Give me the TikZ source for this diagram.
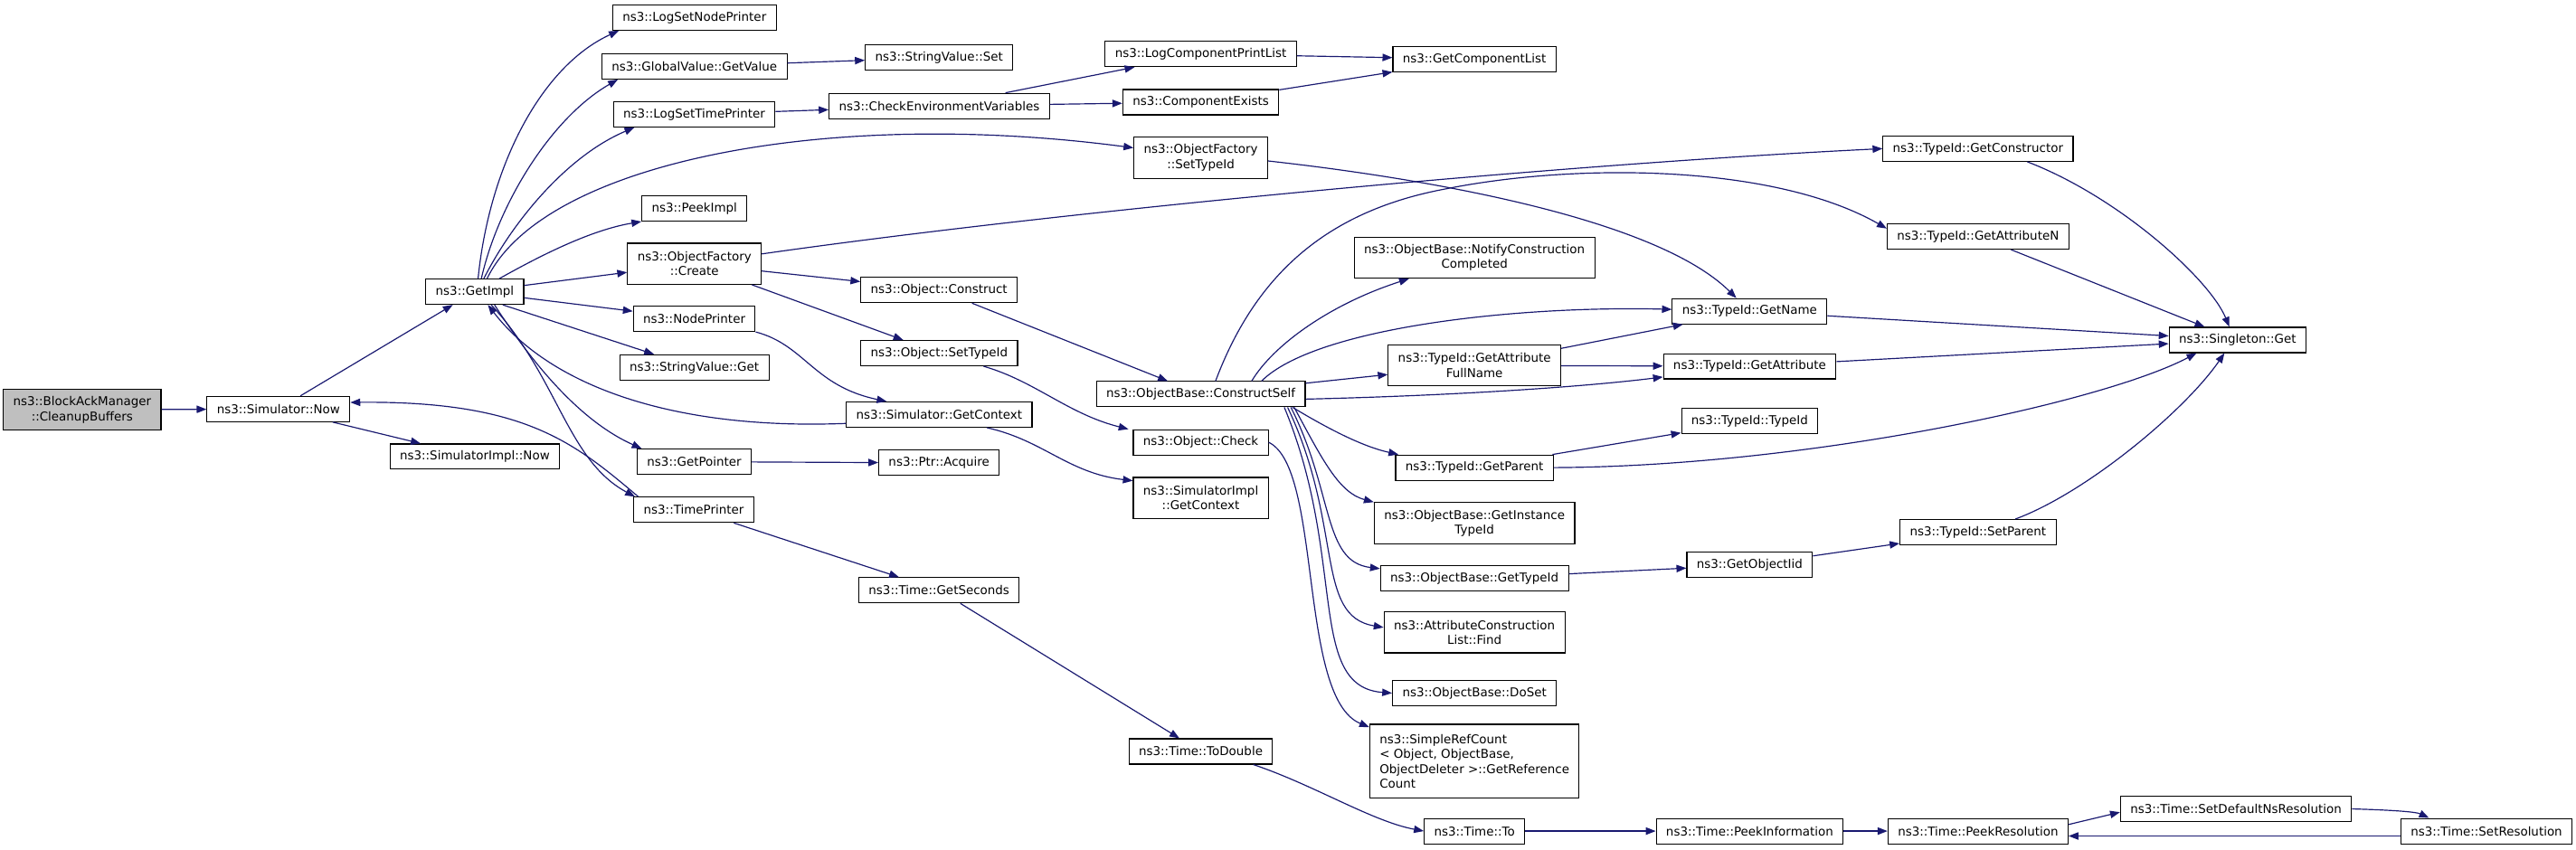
\documentclass[tikz,border=0pt]{standalone}
\usepackage{fontspec}
\setmainfont{DejaVu Sans}
\usetikzlibrary{arrows.meta}
\definecolor{edgeblue}{HTML}{191970}
\begin{document}
\begin{tikzpicture}[x=1pt,y=-1pt,
  fn/.style={draw=black, line width=0.6pt, fill=white, inner xsep=6pt, inner ysep=0pt,
    minimum height=15.4pt, font=\fontsize{7.4}{9}\selectfont, align=center},
  fn2/.style={fn, minimum height=25pt},
  call/.style={draw=edgeblue, line width=0.65pt, -{Triangle[length=6pt,width=4.5pt]}},
]
\useasboundingbox (0,0) rectangle (1568,517.5);

% nodes
\node[fn2, fill=gray!50] (bam) at (50,249.5) {ns3::BlockAckManager\\::CleanupBuffers};
\node[fn] (simnow) at (169.5,249) {ns3::Simulator::Now};
\node[fn] (simimplnow) at (289,278) {ns3::SimulatorImpl::Now};
\node[fn] (getimpl) at (289,177.6) {ns3::GetImpl};
\node[fn] (lsnp) at (422.7,10.7) {ns3::LogSetNodePrinter};
\node[fn] (gvgv) at (422.7,40.4) {ns3::GlobalValue::GetValue};
\node[fn] (lstp) at (422.6,69.6) {ns3::LogSetTimePrinter};
\node[fn] (peek) at (422.7,126.9) {ns3::PeekImpl};
\node[fn2] (ofcreate) at (422.7,160.6) {ns3::ObjectFactory\\::Create};
\node[fn] (nodepr) at (422.6,194.1) {ns3::NodePrinter};
\node[fn] (svget) at (422.6,223.7) {ns3::StringValue::Get};
\node[fn] (getptr) at (422.6,281.1) {ns3::GetPointer};
\node[fn] (timepr) at (422.3,310.4) {ns3::TimePrinter};
\node[fn] (svset) at (571.6,35.1) {ns3::StringValue::Set};
\node[fn] (checkenv) at (571.7,64.5) {ns3::CheckEnvironmentVariables};
\node[fn] (objconstruct) at (571.6,176.6) {ns3::Object::Construct};
\node[fn] (objsettid) at (571.7,215) {ns3::Object::SetTypeId};
\node[fn] (simgetctx) at (571.7,252.4) {ns3::Simulator::GetContext};
\node[fn] (ptracq) at (571.6,281.8) {ns3::Ptr::Acquire};
\node[fn] (getsec) at (571.6,359.4) {ns3::Time::GetSeconds};
\node[fn] (todouble) at (730.9,457.5) {ns3::Time::ToDouble};
\node[fn] (lcpl) at (730.9,32.9) {ns3::LogComponentPrintList};
\node[fn] (compexists) at (730.9,62.2) {ns3::ComponentExists};
\node[fn2] (ofsettid) at (730.9,96) {ns3::ObjectFactory\\::SetTypeId};
\node[fn] (constructself) at (730.9,240) {ns3::ObjectBase::ConstructSelf};
\node[fn] (objcheck) at (730.9,269.3) {ns3::Object::Check};
\node[fn2] (simimplctx) at (730.9,303.2) {ns3::SimulatorImpl\\::GetContext};
\node[fn] (getcomplist) at (897.5,36) {ns3::GetComponentList};
\node[fn2] (notify) at (897.5,156.9) {ns3::ObjectBase::NotifyConstruction\\Completed};
\node[fn2] (getattrfull) at (897.5,222.5) {ns3::TypeId::GetAttribute\\FullName};
\node[fn] (getparent) at (897.5,284.7) {ns3::TypeId::GetParent};
\node[fn2] (getinst) at (897.5,318.5) {ns3::ObjectBase::GetInstance\\TypeId};
\node[fn] (obgettid) at (897.5,352.2) {ns3::ObjectBase::GetTypeId};
\node[fn2] (acfind) at (897.5,385) {ns3::AttributeConstruction\\List::Find};
\node[fn] (doset) at (897.5,422) {ns3::ObjectBase::DoSet};
\node[fn, minimum height=45pt, align=left] (refcount) at (897.5,463.5) {ns3::SimpleRefCount\\< Object, ObjectBase,\\ObjectDeleter >::GetReference\\Count};
\node[fn] (timeto) at (897.5,506) {ns3::Time::To};
\node[fn] (getname) at (1065,189.5) {ns3::TypeId::GetName};
\node[fn] (getattr) at (1065,223) {ns3::TypeId::GetAttribute};
\node[fn] (tidtid) at (1065,256.5) {ns3::TypeId::TypeId};
\node[fn] (getobjiid) at (1065,344) {ns3::GetObjectIid};
\node[fn] (peekinfo) at (1065,506) {ns3::Time::PeekInformation};
\node[fn] (getctor) at (1204,90.5) {ns3::TypeId::GetConstructor};
\node[fn] (getattrn) at (1204,144) {ns3::TypeId::GetAttributeN};
\node[fn] (setparent) at (1204,324) {ns3::TypeId::SetParent};
\node[fn] (peekres) at (1204,506) {ns3::Time::PeekResolution};
\node[fn] (singleton) at (1362,207) {ns3::Singleton::Get};
\node[fn] (setdefns) at (1361,492.5) {ns3::Time::SetDefaultNsResolution};
\node[fn] (setres) at (1513.5,506) {ns3::Time::SetResolution};

% edges
\draw[call] (bam) -- (simnow);
\draw[call] (simnow) -- (getimpl);
\draw[call] (simnow) -- (simimplnow);
\draw[call] ([xshift=2pt]getimpl.north) .. controls (298,100) and (330,40) .. ([xshift=4pt]lsnp.south west);
\draw[call] ([xshift=4pt]getimpl.north) .. controls (303,125) and (335,72) .. ([xshift=10pt]gvgv.south west);
\draw[call] ([xshift=5.5pt]getimpl.north) .. controls (312,135) and (345,95) .. ([xshift=13pt]lstp.south west);
\draw[call] ([xshift=7.5pt]getimpl.north) .. controls (330,100) and (500,65) .. ([yshift=6pt]ofsettid.west);
\draw[call] ([xshift=15pt]getimpl.north) .. controls (330,155) and (360,140) .. (peek.south west);
\draw[call] (getimpl) -- (ofcreate);
\draw[call] (getimpl) -- (nodepr);
\draw[call] ([xshift=17pt]getimpl.south) -- (svget);
\draw[call] ([xshift=12pt]getimpl.south) .. controls (320,215) and (350,255) .. ([xshift=3pt]getptr.north west);
\draw[call] ([xshift=10pt]getimpl.south) .. controls (340,230) and (345,280) .. ([xshift=1pt]timepr.north west);
\draw[call] ([yshift=-5.4pt]simgetctx.west) .. controls (410,262) and (335,235) .. ([xshift=8pt]getimpl.south);
\draw[call] ([xshift=3pt]timepr.north west) .. controls (350,270) and (320,244) .. ([yshift=4pt]simnow.east);
\draw[call] (nodepr.south east) .. controls (490,210) and (495,235) .. ([xshift=-32pt]simgetctx.north);
\draw[call] (getptr) -- (ptracq);
\draw[call] (timepr) -- (getsec);
\draw[call] (gvgv) -- (svset);
\draw[call] (lstp) -- (checkenv);
\draw[call] (checkenv) -- (lcpl);
\draw[call] (checkenv) -- (compexists);
\draw[call] (lcpl) -- (getcomplist);
\draw[call] (compexists) -- (getcomplist);
\draw[call] ([yshift=-2pt]ofsettid.east) .. controls (880,110) and (1010,135) .. (getname);
\draw[call] ([yshift=6pt]ofcreate.east) .. controls (650,128) and (950,100) .. (getctor.west);
\draw[call] (ofcreate) -- (objconstruct);
\draw[call] (ofcreate) -- (objsettid);
\draw[call] (objconstruct) -- (constructself);
\draw[call] ([xshift=-21pt]objsettid.south east) .. controls (630,232) and (650,252) .. ([xshift=-44pt]objcheck.north);
\draw[call] ([xshift=29pt]simgetctx.south) .. controls (635,268) and (650,288) .. ([yshift=10.5pt]simimplctx.west);
\draw[call] (objcheck.east) .. controls (805,285) and (790,425) .. ([yshift=-2pt]refcount.north west);
\draw[call] ([xshift=9pt]constructself.north) .. controls (765,165) and (810,128) .. (880,115) .. controls (960,99) and (1080,100) .. (getattrn.175);
\draw[call] ([xshift=31pt]constructself.north) .. controls (775,210) and (810,185) .. (notify);
\draw[call] ([xshift=37pt]constructself.north) .. controls (800,200) and (920,186) .. (getname);
\draw[call] (constructself) -- (getattrfull);
\draw[call] ([yshift=-3pt]constructself.east) .. controls (880,241) and (960,236) .. (getattr);
\draw[call] ([xshift=-8pt]constructself.south east) .. controls (810,262) and (830,272) .. ([xshift=2pt]getparent.north west);
\draw[call] ([xshift=-7pt]constructself.south east) .. controls (805,280) and (815,300) .. (getinst.north west);
\draw[call] ([xshift=-9pt]constructself.south east) .. controls (812,300) and (805,342) .. ([yshift=-2pt]obgettid.north west);
\draw[call] ([xshift=-11pt]constructself.south east) .. controls (818,320) and (800,375) .. ([yshift=3pt]acfind.west);
\draw[call] ([xshift=-13pt]constructself.south east) .. controls (820,340) and (795,418) .. (doset.west);
\draw[call] (getattrfull) -- (getname);
\draw[call] (getattrfull) -- (getattr);
\draw[call] (getparent) -- (tidtid);
\draw[call] (getparent.east) .. controls (1100,284) and (1280,245) .. ([xshift=-25pt]singleton.south);
\draw[call] (getname) -- (singleton);
\draw[call] (getattr) -- (singleton);
\draw[call] (getattrn) -- (singleton);
\draw[call] ([xshift=30pt]getctor.south) .. controls (1290,120) and (1345,170) .. ([xshift=-5pt]singleton.north);
\draw[call] (obgettid) -- (getobjiid);
\draw[call] (getobjiid) -- (setparent);
\draw[call] ([xshift=-25pt]setparent.north east) .. controls (1270,300) and (1330,250) .. ([xshift=-8pt]singleton.south);
\draw[call] (getsec) -- (todouble);
\draw[call] ([xshift=-12pt]todouble.south east) .. controls (800,478) and (835,500) .. (timeto.west);
\draw[call] (timeto) -- (peekinfo);
\draw[call] (peekinfo) -- (peekres);
\draw[call] ([yshift=4pt]peekres.east) -- ([yshift=-2pt]setdefns.west);
\draw[call] (setdefns.east) .. controls (1450,493) and (1470,494) .. ([xshift=-35pt]setres.north);
\draw[call] ([yshift=-3pt]setres.west) -- ([yshift=-3pt]peekres.east);
\end{tikzpicture}
\end{document}
